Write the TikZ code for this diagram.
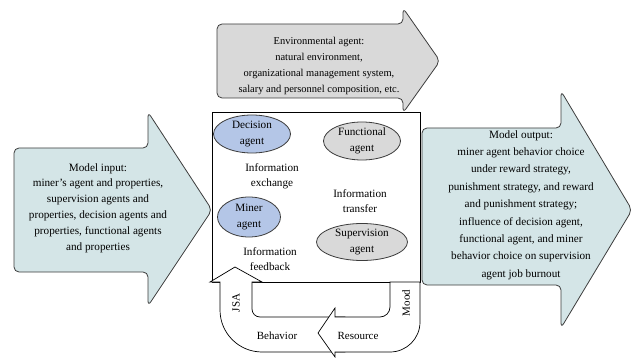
\documentclass[tikz,border=0pt]{standalone}
\usepackage{fontspec}
\setmainfont{Liberation Serif}
\usepackage{tikz}
\usetikzlibrary{shapes.geometric}
\definecolor{AgentCyan}{HTML}{D4E5E7}
\definecolor{EnvGray}{HTML}{D9D9D9}
\definecolor{AgentBlue}{HTML}{B4C6E7}
\definecolor{EdgeGray}{HTML}{3C3C3C}
\tikzset{
    bigarrow/.style={draw=EdgeGray, line width=0.8pt, rounded corners=5pt, line join=round},
    ioarrow/.style={bigarrow, fill=AgentCyan},
    envarrow/.style={bigarrow, fill=EnvGray},
    looparrow/.style={draw=black, line width=0.7pt, fill=white},
    agent/.style={ellipse, draw=EdgeGray, line width=0.8pt, inner sep=0pt, align=center,
        font=\fontsize{11.2}{16}\selectfont},
    blueagent/.style={agent, fill=AgentBlue},
    grayagent/.style={agent, fill=EnvGray},
    infotext/.style={align=center, font=\fontsize{11.2}{15}\selectfont},
    looplabel/.style={font=\fontsize{11}{13}\selectfont, inner sep=1pt},
}

\begin{document}
\begin{tikzpicture}[x=1pt, y=-1pt]
    \useasboundingbox (0,0) rectangle (637,358);

    % input, environment and output arrows
    \draw[ioarrow] (14,148) -- (148,148) -- (148,112) -- (212,210) -- (148,306)
        -- (148,272) -- (14,272) -- cycle;
    \node[infotext, font=\fontsize{11.2}{15.8}\selectfont] (input) at (98,208)
        {Model input:\\miner’s agent and properties,\\supervision agents and\\
         properties, decision agents and\\properties, functional agents\\and properties};

    \draw[envarrow] (217,24) -- (403,24) -- (403,8) -- (440,61) -- (403,113)
        -- (403,98) -- (217,98) -- cycle;
    \node[infotext, font=\fontsize{10.5}{15.7}\selectfont] (env) at (319,66)
        {Environmental agent:\\natural environment,\\organizational management system,\\
         salary and personnel composition, etc.};

    \draw[ioarrow] (422,128) -- (561,128) -- (561,91) -- (632,210) -- (561,328)
        -- (561,285) -- (422,285) -- cycle;
    \node[infotext, font=\fontsize{11.2}{17.4}\selectfont] (output) at (521,205)
        {Model output:\\miner agent behavior choice\\under reward strategy,\\
         punishment strategy, and reward\\and punishment strategy;\\
         influence of decision agent,\\functional agent, and miner\\
         behavior choice on supervision\\agent job burnout};

    % agent system
    \draw[line width=0.7pt, fill=white] (212,112) rectangle (420,282);

    \node[blueagent, minimum width=77pt, minimum height=38pt] (decision) at (252,134) {Decision\\agent};
    \node[grayagent, minimum width=77pt, minimum height=38pt] (functional) at (362,141) {Functional\\agent};
    \node[blueagent, minimum width=63pt, minimum height=40pt] (miner) at (249,217) {Miner\\agent};
    \node[grayagent, minimum width=91pt, minimum height=37pt] (supervision) at (362,242) {Supervision\\agent};

    \node[infotext] (exchange) at (272,176) {Information\\exchange};
    \node[infotext] (transfer) at (360,201) {Information\\transfer};
    \node[infotext] (feedback) at (270,259) {Information\\feedback};

    % feedback loop under the system
    \draw[looparrow] (235,267) -- (262,282) -- (252,282) -- (252,309)
        arc[start angle=180, end angle=90, radius=8] -- (345,317) -- (345,352) -- (262,352)
        arc[start angle=90, end angle=180, radius=42] -- (220,282) -- (210,282) -- cycle;
    \draw[looparrow] (390,282) -- (420,282) -- (420,322)
        arc[start angle=0, end angle=90, radius=30] -- (335,352) -- (335,357) -- (318,333)
        -- (335,308) -- (335,317) -- (380,317)
        arc[start angle=90, end angle=0, radius=10] -- cycle;

    \node[looplabel, rotate=90] (jsa) at (236,303) {JSA};
    \node[looplabel, rotate=90] (mood) at (406,303) {Mood};
    \node[looplabel] (behavior) at (277,336) {Behavior};
    \node[looplabel] (resource) at (358,336) {Resource};
\end{tikzpicture}
\end{document}
